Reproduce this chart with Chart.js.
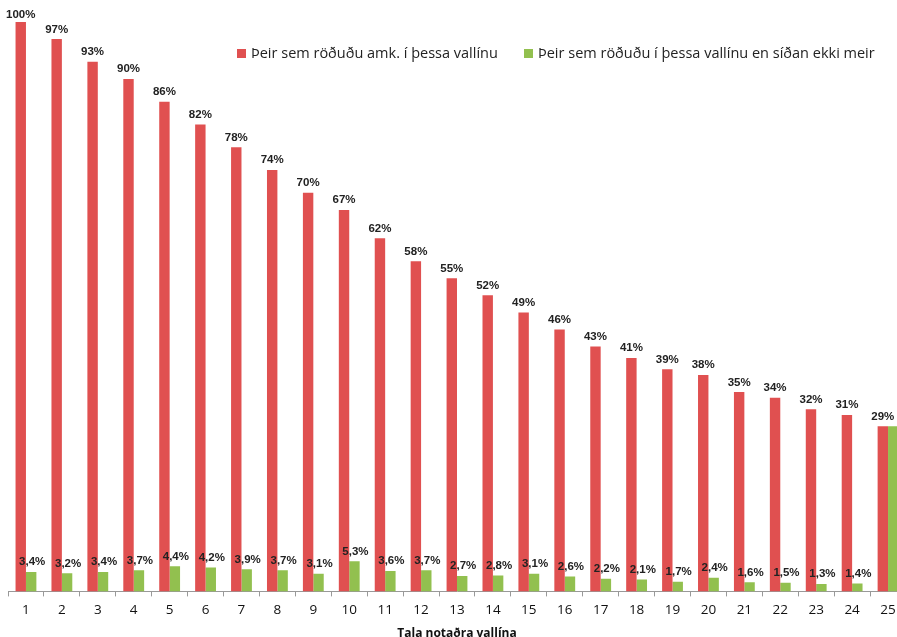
<!DOCTYPE html>
<html>
<head>
<meta charset="utf-8">
<script src="https://cdn.jsdelivr.net/npm/chart.js@4"></script>
<style>
    html, body { margin: 0; padding: 0; background: #fff; overflow: hidden; }
    #wrap { position: relative; width: 897px; height: 637px; overflow: hidden; }
    #box { position: absolute; left: 0; top: 0; width: 906px; height: 641px; }
    .legend { position: absolute; top: 43px; font-family: "Open Sans", sans-serif; font-size: 14.5px; color: #222; white-space: nowrap; }
    .legend span.sw { display: inline-block; width: 9px; height: 9px; margin-right: 5px; vertical-align: 0px; }
</style>
</head>
<body>
<div id="wrap">
    <div id="box"><canvas id="dataChart"></canvas></div>
    <div class="legend" style="left:237px"><span class="sw" style="background:#E05050"></span>Þeir sem röðuðu amk. í þessa vallínu</div>
    <div class="legend" style="left:524px"><span class="sw" style="background:#92C04F"></span>Þeir sem röðuðu í þessa vallínu en síðan ekki meir</div>
</div>
<script>
const categories = ["1", "2", "3", "4", "5", "6", "7", "8", "9", "10", "11", "12", "13",
    "14", "15", "16", "17", "18", "19", "20", "21", "22", "23", "24", "25"];
const atLeast = [100, 97, 93, 90, 86, 82, 78, 74, 70, 67, 62, 58, 55, 52, 49, 46, 43, 41, 39, 38, 35, 34, 32, 31, 29];
const stoppedHere = [3.4, 3.2, 3.4, 3.7, 4.4, 4.2, 3.9, 3.7, 3.1, 5.3, 3.6, 3.7, 2.7, 2.8, 3.1, 2.6, 2.2, 2.1, 1.7, 2.4, 1.6, 1.5, 1.3, 1.4, 29];

// draws the value labels above the bars
const barLabels = {
    id: 'barLabels',
    afterDatasetsDraw(chart) {
        const ctx = chart.ctx;
        ctx.save();
        ctx.font = 'bold 11.5px "Liberation Sans", sans-serif';
        ctx.fillStyle = '#222';
        ctx.textAlign = 'center';
        ctx.textBaseline = 'bottom';
        chart.data.datasets.forEach(function (ds, i) {
            const meta = chart.getDatasetMeta(i);
            meta.data.forEach(function (bar, j) {
                if (i === 1 && j === ds.data.length - 1) return; // same as red one
                const v = ds.data[j];
                const txt = (i === 0 ? String(v) : v.toFixed(1).replace('.', ',')) + '%';
                ctx.fillText(txt, bar.x + (i === 1 ? 1 : 0), Math.max(bar.y - 4, 21));
            });
        });
        ctx.restore();
    }
};

const ctx = document.getElementById("dataChart").getContext("2d");
const dataChart = new Chart(ctx, {
    type: 'bar',
    data: {
        labels: categories,
        datasets: [{
            label: 'Þeir sem röðuðu amk. í þessa vallínu',
            data: atLeast,
            backgroundColor: '#E05050'
        }, {
            label: 'Þeir sem röðuðu í þessa vallínu en síðan ekki meir',
            data: stoppedHere,
            backgroundColor: '#92C04F'
        }]
    },
    options: {
        responsive: true,
        maintainAspectRatio: false,
        animation: false,
        layout: {padding: {left: 8, right: 0, top: 22, bottom: 0}},
        datasets: {bar: {categoryPercentage: 0.58, barPercentage: 1.0}},
        plugins: {
            legend: {display: false},
            tooltip: {enabled: false}
        },
        scales: {
            x: {
                grid: {
                    display: true,
                    drawOnChartArea: false,
                    drawTicks: true,
                    tickLength: 5,
                    color: '#999'
                },
                border: {display: true, color: '#999'},
                ticks: {
                    color: '#111',
                    padding: 6,
                    font: {family: '"Open Sans", sans-serif', size: 13.5}
                },
                title: {
                    display: true,
                    text: 'Tala notaðra vallína',
                    color: '#111',
                    padding: {top: 2, bottom: 0},
                    font: {family: '"Open Sans", sans-serif', size: 12, weight: 'bold'}
                }
            },
            y: {
                display: false,
                min: 0,
                max: 100
            }
        }
    },
    plugins: [barLabels]
});
</script>
</body>
</html>
